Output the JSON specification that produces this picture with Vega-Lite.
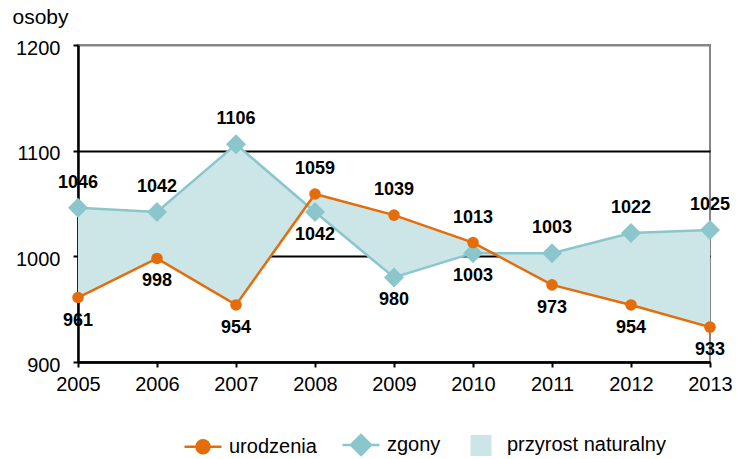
{
  "$schema": "https://vega.github.io/schema/vega-lite/v6.json",
  "width": 632,
  "height": 317,
  "autosize": {"type": "none"},
  "padding": {"left": 78, "top": 45, "right": 30, "bottom": 97},
  "background": "white",
  "config": {
    "font": "Liberation Sans",
    "view": {"stroke": "#868686", "strokeWidth": 2}
  },
  "data": {
    "values": [
      {"rok": 2005, "urodzenia": 961, "zgony": 1046},
      {"rok": 2006, "urodzenia": 998, "zgony": 1042},
      {"rok": 2007, "urodzenia": 954, "zgony": 1106},
      {"rok": 2008, "urodzenia": 1059, "zgony": 1042},
      {"rok": 2009, "urodzenia": 1039, "zgony": 980},
      {"rok": 2010, "urodzenia": 1013, "zgony": 1003},
      {"rok": 2011, "urodzenia": 973, "zgony": 1003},
      {"rok": 2012, "urodzenia": 954, "zgony": 1022},
      {"rok": 2013, "urodzenia": 933, "zgony": 1025}
    ]
  },
  "encoding": {
    "x": {
      "field": "rok", "type": "quantitative",
      "scale": {"domain": [2005, 2013], "nice": false, "zero": false},
      "axis": {
        "title": null, "values": [2005, 2006, 2007, 2008, 2009, 2010, 2011, 2012, 2013],
        "format": "d", "grid": false, "labelFlush": false, "domainColor": "black", "domainWidth": 2.5,
        "tickColor": "black", "tickWidth": 2, "tickSize": 5,
        "labelFontSize": 20, "labelColor": "black", "labelPadding": 7, "labelFont": "Liberation Sans"
      }
    }
  },
  "layer": [
    {
      "mark": {"type": "area", "color": "#CCE6E8", "opacity": 1},
      "encoding": {
        "y": {
          "field": "urodzenia", "type": "quantitative",
          "scale": {"domain": [900, 1200], "nice": false, "zero": false},
          "axis": {
            "title": "osoby", "titleAngle": 0, "titleAlign": "left", "titleBaseline": "middle",
            "titleX": -66, "titleY": -28, "titleFontSize": 21, "titleFontWeight": "normal", "titleColor": "black",
            "titleFont": "Liberation Sans",
            "values": [900, 1000, 1100, 1200], "format": "d", "labelFlush": false, "grid": true,
            "gridColor": {"condition": {"test": "datum.value == 1200", "value": "#868686"}, "value": "black"},
            "gridWidth": 2,
            "domainColor": "black", "domainWidth": 2.5, "tickColor": "black", "tickWidth": 2, "tickSize": 5,
            "labelFontSize": 20, "labelColor": "black", "labelPadding": 13, "labelOffset": 3, "labelFont": "Liberation Sans"
          }
        },
        "y2": {"field": "zgony"}
      }
    },
    {
      "mark": {"type": "line", "color": "#8AC6CC", "strokeWidth": 2.5},
      "encoding": {"y": {"field": "zgony", "type": "quantitative", "title": "osoby"}}
    },
    {
      "transform": [{"fold": ["zgony"], "as": ["seria", "value"]}],
      "mark": {"type": "point", "shape": "diamond", "filled": true, "size": 400, "opacity": 1},
      "encoding": {
        "y": {"field": "value", "type": "quantitative", "title": "osoby"},
        "color": {
          "field": "seria", "type": "nominal",
          "scale": {"domain": ["urodzenia", "zgony", "przyrost naturalny"], "range": ["#E46C0A", "#8AC6CC", "#CCE6E8"]},
          "legend": {
            "orient": "none", "legendX": 105, "legendY": 380, "direction": "horizontal", "title": null,
            "symbolSize": 1369, "symbolStrokeWidth": 2.5, "labelFontSize": 20, "labelColor": "black",
            "labelFont": "Liberation Sans", "labelOffset": 6, "columnPadding": 20, "padding": 0,
            "encoding": {
              "symbols": {
                "shape": {"value": {"expr": "datum.value === 'urodzenia' ? 'M-1,0L1,0M-0.35,0A0.35,0.35,0,1,0,0.35,0A0.35,0.35,0,1,0,-0.35,0Z' : (datum.value === 'zgony' ? 'M-1,0L1,0M-0.54,0L0,-0.54L0.54,0L0,0.54Z' : 'M-0.5,-0.5L0.5,-0.5L0.5,0.5L-0.5,0.5Z')"}},
                "fill": {"value": {"expr": "scale('color', datum.value)"}},
                "stroke": {"value": {"expr": "scale('color', datum.value)"}},
                "strokeWidth": {"value": 2.5},
                "opacity": {"value": 1}
              }
            }
          }
        }
      }
    },
    {
      "mark": {"type": "line", "color": "#E46C0A", "strokeWidth": 2.5},
      "encoding": {"y": {"field": "urodzenia", "type": "quantitative", "title": "osoby"}}
    },
    {
      "transform": [{"fold": ["urodzenia"], "as": ["seria", "value"]}],
      "mark": {"type": "point", "shape": "circle", "filled": true, "size": 133, "opacity": 1},
      "encoding": {
        "y": {"field": "value", "type": "quantitative", "title": "osoby"},
        "color": {"field": "seria", "type": "nominal"}
      }
    },
    {
      "transform": [
        {"fold": ["urodzenia", "zgony"], "as": ["seria", "value"]},
        {"joinaggregate": [{"op": "max", "field": "value", "as": "maxv"}], "groupby": ["rok"]},
        {"filter": "datum.value == datum.maxv"}
      ],
      "mark": {"type": "text", "dy": -25, "fontSize": 18, "fontWeight": "bold", "color": "black", "font": "Liberation Sans"},
      "encoding": {
        "y": {"field": "value", "type": "quantitative", "title": "osoby"},
        "text": {"field": "value", "type": "quantitative"}
      }
    },
    {
      "transform": [
        {"fold": ["urodzenia", "zgony"], "as": ["seria", "value"]},
        {"joinaggregate": [{"op": "max", "field": "value", "as": "maxv"}], "groupby": ["rok"]},
        {"filter": "datum.value < datum.maxv"}
      ],
      "mark": {"type": "text", "dy": 23, "fontSize": 18, "fontWeight": "bold", "color": "black", "font": "Liberation Sans"},
      "encoding": {
        "y": {"field": "value", "type": "quantitative", "title": "osoby"},
        "text": {"field": "value", "type": "quantitative"}
      }
    }
  ]
}
